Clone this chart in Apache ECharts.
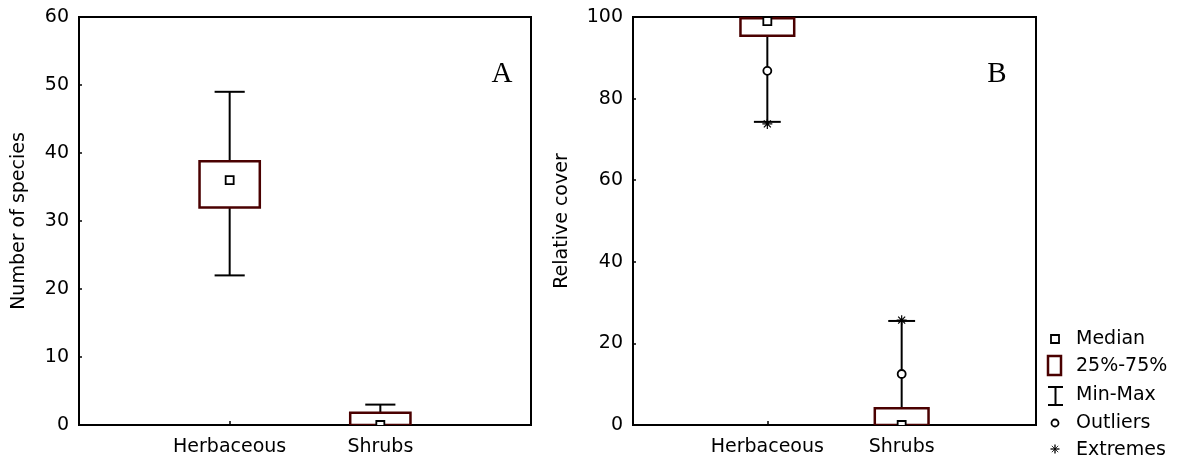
<!DOCTYPE html>
<html>
<head>
<meta charset="utf-8">
<script src="https://cdn.jsdelivr.net/npm/echarts@6/dist/echarts.min.js"></script>
<style>
html,body{margin:0;padding:0;background:#fff;}
#chart{width:1180px;height:463px;}
</style>
</head>
<body>
<div id="chart"></div>
<script>
// ---- data ----
const categories = ['Herbaceous', 'Shrubs'];
const speciesTicks = [0, 10, 20, 30, 40, 50, 60];
const coverTicks = [0, 20, 40, 60, 80, 100];

const speciesMin = [22, 0];
const speciesQ1 = [32, 0];
const speciesMedian = [36, 0];
const speciesQ3 = [38.8, 1.8];
const speciesMax = [49, 3];

const coverMin = [74.3, 0];
const coverQ1 = [95.4, 0];
const coverMedian = [99, 0];
const coverQ3 = [99.7, 4.1];
const coverMax = [100, 25.5];
const coverOutliers = [86.8, 12.5];
const coverExtremes = [73.8, 25.7];

const legendNames = ['Median', '25%-75%', 'Min-Max', 'Outliers', 'Extremes'];
const panelLetters = ['A', 'B'];

// ---- styles ----
const FONT = 'DejaVu Sans';
const FS = 19;
const BOX_COLOR = '#4a0000';
const STAR = 'path://M0,5L10,5M5,0L5,10M1.5,1.5L8.5,8.5M8.5,1.5L1.5,8.5';

function boxRows(mins, q1s, meds, q3s, maxs) {
  return categories.map((c, i) => [i + 1, mins[i], q1s[i], meds[i], q3s[i], maxs[i]]);
}

function renderBox(params, api) {
  const x = api.value(0);
  const xs = api.coord([x, 0])[0];
  const half = Math.abs(api.coord([x + 0.2, 0])[0] - xs);
  const capHalf = half / 2;
  const y = k => api.coord([x, api.value(k)])[1];
  const yMin = y(1), yQ1 = y(2), yMed = y(3), yQ3 = y(4), yMax = y(5);
  const ln = {stroke: '#000', lineWidth: 2};
  return {
    type: 'group',
    children: [
      {type: 'line', shape: {x1: xs, y1: yQ3, x2: xs, y2: yMax}, style: ln},
      {type: 'line', shape: {x1: xs, y1: yQ1, x2: xs, y2: yMin}, style: ln},
      {type: 'line', shape: {x1: xs - capHalf, y1: yMax, x2: xs + capHalf, y2: yMax}, style: ln},
      {type: 'line', shape: {x1: xs - capHalf, y1: yMin, x2: xs + capHalf, y2: yMin}, style: ln},
      {type: 'rect', shape: {x: xs - half, y: yQ3, width: 2 * half, height: yQ1 - yQ3},
        style: {fill: '#fff', stroke: BOX_COLOR, lineWidth: 2.5}},
      {type: 'rect', shape: {x: xs - 4, y: yMed - 4, width: 8, height: 8},
        style: {fill: '#fff', stroke: '#000', lineWidth: 1.8}}
    ]
  };
}

function xAxisFor(gi) {
  return {
    type: 'value', gridIndex: gi, min: 0, max: 3, interval: 1,
    splitLine: {show: false},
    axisLine: {show: true, onZero: false, lineStyle: {color: '#000', width: 2}},
    axisTick: {show: true, inside: true, length: 4, lineStyle: {color: '#000', width: 1.5}},
    axisLabel: {
      margin: 13, color: '#000', fontFamily: FONT, fontSize: FS,
      formatter: v => (v >= 1 && v <= categories.length) ? categories[v - 1] : ''
    }
  };
}

function yAxisFor(gi, ticks, name, gap) {
  return {
    type: 'value', gridIndex: gi,
    min: ticks[0], max: ticks[ticks.length - 1], interval: ticks[1] - ticks[0],
    name: name, nameLocation: 'middle', nameGap: gap,
    nameTextStyle: {color: '#000', fontFamily: FONT, fontSize: FS},
    splitLine: {show: false},
    axisLine: {show: true, lineStyle: {color: '#000', width: 2}},
    axisTick: {show: true, inside: true, length: 3, lineStyle: {color: '#000', width: 1.5}},
    axisLabel: {margin: 10, color: '#000', fontFamily: FONT, fontSize: FS}
  };
}

const chart = echarts.init(document.getElementById('chart'), null, {renderer: 'canvas'});

const lx = 1055, tx = 1076;
const legendRowsY = [339, 366, 395, 423, 450];

const legendGraphics = [
  {type: 'rect', shape: {x: lx - 4, y: legendRowsY[0] - 4, width: 8, height: 8},
    style: {fill: '#fff', stroke: '#000', lineWidth: 1.8}},
  {type: 'rect', shape: {x: 1048, y: 356, width: 13, height: 19},
    style: {fill: '#fff', stroke: BOX_COLOR, lineWidth: 2.5}},
  {type: 'polyline', shape: {points: [[1048, 387], [1063, 387]]}, style: {stroke: '#000', lineWidth: 2}},
  {type: 'polyline', shape: {points: [[1055.5, 387], [1055.5, 405]]}, style: {stroke: '#000', lineWidth: 2}},
  {type: 'polyline', shape: {points: [[1048, 405], [1063, 405]]}, style: {stroke: '#000', lineWidth: 2}},
  {type: 'circle', shape: {cx: lx, cy: legendRowsY[3], r: 3.5},
    style: {fill: '#fff', stroke: '#000', lineWidth: 1.8}},
  {type: 'group', x: lx, y: legendRowsY[4] - 1, children: [
    {type: 'line', shape: {x1: -4.5, y1: 0, x2: 4.5, y2: 0}, style: {stroke: '#000', lineWidth: 1.3}},
    {type: 'line', shape: {x1: 0, y1: -4.5, x2: 0, y2: 4.5}, style: {stroke: '#000', lineWidth: 1.3}},
    {type: 'line', shape: {x1: -3.2, y1: -3.2, x2: 3.2, y2: 3.2}, style: {stroke: '#000', lineWidth: 0.8}},
    {type: 'line', shape: {x1: 3.2, y1: -3.2, x2: -3.2, y2: 3.2}, style: {stroke: '#000', lineWidth: 0.8}}
  ]}
].concat(legendNames.map((n, i) => ({
  type: 'text', x: tx, y: legendRowsY[i],
  style: {text: n, fill: '#000', font: FS + 'px "' + FONT + '"', textAlign: 'left', textVerticalAlign: 'middle'}
})));

const letterGraphics = [
  {type: 'text', x: 502, y: 74, style: {text: panelLetters[0], fill: '#000', font: '29px "Liberation Serif"', textAlign: 'center', textVerticalAlign: 'middle'}},
  {type: 'text', x: 997, y: 74, style: {text: panelLetters[1], fill: '#000', font: '29px "Liberation Serif"', textAlign: 'center', textVerticalAlign: 'middle'}}
];

const option = {
  backgroundColor: '#fff',
  animation: false,
  grid: [
    {left: 79, top: 17, width: 452, height: 408, show: true, borderColor: '#000', borderWidth: 2, backgroundColor: 'transparent'},
    {left: 633, top: 17, width: 403, height: 408, show: true, borderColor: '#000', borderWidth: 2, backgroundColor: 'transparent'}
  ],
  xAxis: [xAxisFor(0), xAxisFor(1)],
  yAxis: [
    yAxisFor(0, speciesTicks, 'Number of species', 50),
    yAxisFor(1, coverTicks, 'Relative cover', 61)
  ],
  series: [
    {
      type: 'custom', name: 'species', xAxisIndex: 0, yAxisIndex: 0, clip: true,
      renderItem: renderBox,
      encode: {x: 0, y: [1, 2, 3, 4, 5]},
      data: boxRows(speciesMin, speciesQ1, speciesMedian, speciesQ3, speciesMax)
    },
    {
      type: 'custom', name: 'cover', xAxisIndex: 1, yAxisIndex: 1, clip: true,
      renderItem: renderBox,
      encode: {x: 0, y: [1, 2, 3, 4, 5]},
      data: boxRows(coverMin, coverQ1, coverMedian, coverQ3, coverMax)
    },
    {
      type: 'scatter', name: 'Outliers', xAxisIndex: 1, yAxisIndex: 1,
      symbol: 'circle', symbolSize: 8,
      itemStyle: {color: '#fff', borderColor: '#000', borderWidth: 1.8, opacity: 1},
      data: coverOutliers.map((v, i) => [i + 1, v]), z: 5
    },
    {
      type: 'scatter', name: 'Extremes', xAxisIndex: 1, yAxisIndex: 1,
      symbol: STAR, symbolSize: 10,
      itemStyle: {color: 'none', borderColor: '#000', borderWidth: 1.2, opacity: 1},
      data: coverExtremes.map((v, i) => [i + 1, v]), z: 5
    }
  ],
  graphic: legendGraphics.concat(letterGraphics)
};

chart.setOption(option);
</script>
</body>
</html>
